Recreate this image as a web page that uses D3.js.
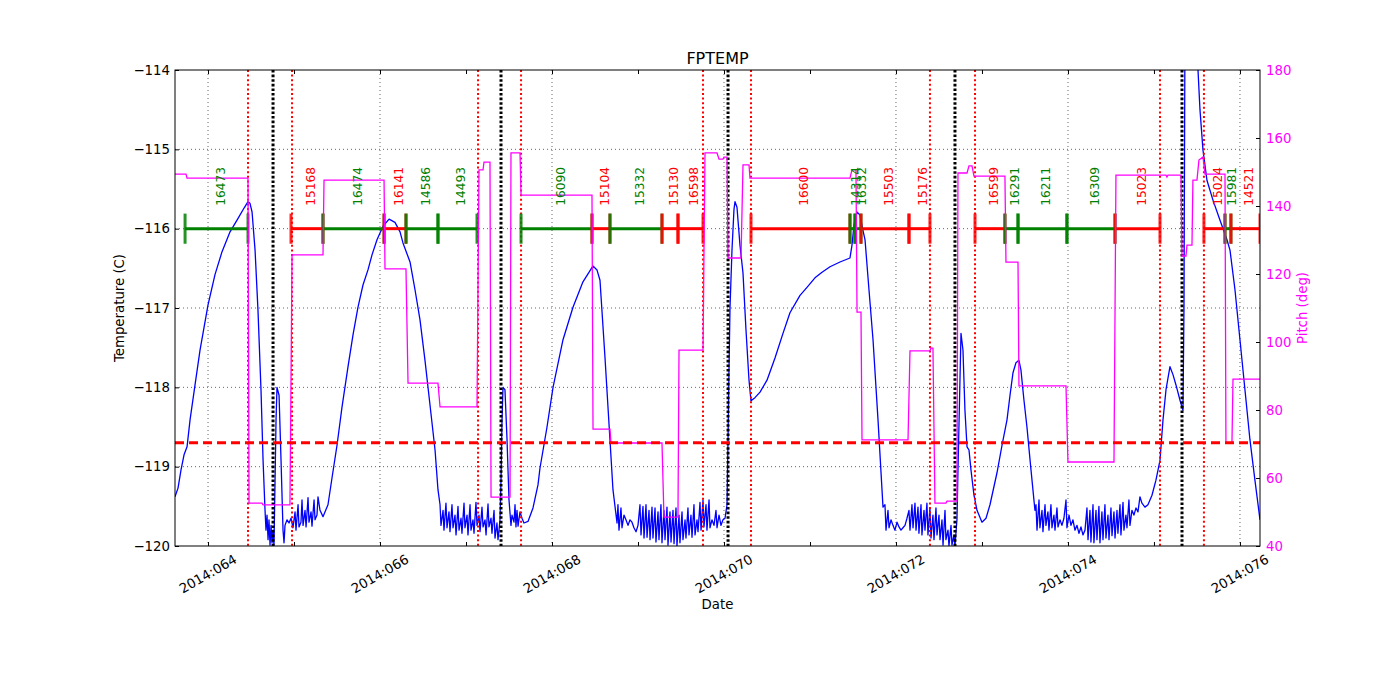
<!DOCTYPE html>
<html><head><meta charset="utf-8">
<script src="https://cdn.jsdelivr.net/npm/d3@7"></script>
<style>body{margin:0;background:#fff}svg{display:block}text{font-family:"DejaVu Sans",sans-serif}</style>
</head><body><svg id="c" width="1400" height="700"></svg>
<script>
// ---- data (day of year 2014, value) ----
const temperature = [
[63.616,-119.38],[63.651,-119.27],[63.686,-119.04],[63.721,-118.85],[63.756,-118.75],[63.791,-118.41],[63.849,-117.97],[63.907,-117.53],[64.000,-116.96],[64.081,-116.58],[64.163,-116.29],[64.256,-116.04],[64.349,-115.87],[64.419,-115.74],[64.465,-115.66],[64.488,-115.68],[64.512,-115.79],[64.547,-116.27],[64.581,-117.03],[64.616,-118.03],[64.640,-118.92],[64.663,-119.55],
[64.674,-119.80],[64.686,-119.61],[64.698,-119.92],[64.709,-119.67],[64.721,-119.99],[64.733,-119.74],[64.744,-119.96],[64.756,-119.80],[64.767,-119.99],[64.791,-118.41],[64.802,-118.00],[64.826,-118.10],[64.849,-118.92],[64.872,-119.80],[64.884,-119.96],[64.895,-119.74],[64.919,-119.67],[64.942,-119.71],[64.965,-119.65],[64.988,-119.77],[65.012,-119.57],[65.023,-119.80],[65.047,-119.48],[65.058,-119.76],[65.081,-119.70],[65.093,-119.42],[65.105,-119.74],[65.128,-119.55],[65.140,-119.76],[65.163,-119.39],[65.174,-119.70],[65.198,-119.57],[65.209,-119.75],[65.233,-119.42],[65.244,-119.67],[65.267,-119.61],[65.279,-119.38],[65.302,-119.55],[65.337,-119.63],
[65.395,-119.48],[65.442,-119.14],[65.500,-118.73],[65.558,-118.25],[65.628,-117.74],[65.686,-117.34],[65.744,-116.99],[65.802,-116.71],[65.860,-116.52],[65.907,-116.33],[65.965,-116.14],[66.035,-115.97],[66.105,-115.88],[66.174,-115.92],[66.233,-116.04],[66.267,-116.18],[66.349,-116.42],[66.407,-116.77],[66.465,-117.15],[66.523,-117.66],[66.581,-118.22],[66.640,-118.79],[66.674,-119.29],
[66.698,-119.48],[66.709,-119.74],[66.733,-119.55],[66.744,-119.80],[66.767,-119.46],[66.779,-119.77],[66.802,-119.57],[66.814,-119.82],[66.837,-119.48],[66.849,-119.77],[66.872,-119.61],[66.884,-119.86],[66.907,-119.50],[66.919,-119.80],[66.942,-119.65],[66.953,-119.84],[66.977,-119.46],[66.988,-119.77],[67.012,-119.61],[67.023,-119.86],[67.047,-119.48],[67.058,-119.80],[67.081,-119.67],[67.093,-119.84],[67.116,-119.45],[67.128,-119.74],[67.151,-119.61],[67.163,-119.82],[67.186,-119.51],[67.198,-119.76],[67.221,-119.67],[67.233,-119.86],[67.256,-119.47],[67.267,-119.76],[67.291,-119.65],[67.302,-119.84],[67.326,-119.55],[67.337,-119.90],[67.360,-119.71],[67.372,-119.92],[67.384,-119.80],[67.395,-119.67],[67.407,-119.17],[67.419,-118.41],[67.430,-118.00],[67.453,-118.03],[67.477,-118.66],[67.500,-119.42],[67.523,-119.74],[67.535,-119.61],[67.558,-119.70],[67.570,-119.48],[67.581,-119.76],[67.593,-119.55],[67.605,-119.75],[67.628,-119.57],[67.651,-119.65],[67.674,-119.71],[67.721,-119.69],[67.779,-119.52],[67.837,-119.23],
[67.860,-119.02],[67.942,-118.50],[68.012,-118.00],[68.128,-117.40],[68.244,-116.99],[68.360,-116.67],[68.477,-116.47],[68.523,-116.52],[68.558,-116.65],[68.616,-117.62],[68.674,-118.66],[68.709,-119.29],[68.756,-119.71],
[68.767,-119.48],[68.779,-119.80],[68.802,-119.52],[68.814,-119.77],[68.837,-119.61],[68.860,-119.67],[68.884,-119.74],[68.907,-119.67],[68.930,-119.70],[68.953,-119.77],[68.977,-119.82],[69.000,-119.74],[69.023,-119.48],[69.035,-119.86],[69.058,-119.50],[69.070,-119.90],[69.093,-119.48],[69.105,-119.89],[69.128,-119.55],[69.140,-119.92],[69.163,-119.51],[69.174,-119.90],[69.198,-119.52],[69.209,-119.95],[69.233,-119.57],[69.244,-119.92],[69.267,-119.48],[69.279,-119.96],[69.302,-119.55],[69.314,-119.92],[69.337,-119.51],[69.349,-119.99],[69.372,-119.57],[69.384,-119.95],[69.407,-119.55],[69.419,-119.97],[69.442,-119.52],[69.453,-120.00],[69.477,-119.61],[69.488,-119.96],[69.512,-119.57],[69.523,-119.92],[69.547,-119.67],[69.558,-119.90],[69.581,-119.52],[69.593,-119.86],[69.616,-119.61],[69.628,-119.89],[69.651,-119.48],[69.663,-119.86],[69.686,-119.67],[69.698,-119.82],[69.721,-119.45],[69.733,-119.80],[69.756,-119.42],[69.767,-119.76],[69.791,-119.48],[69.802,-119.80],[69.826,-119.42],[69.837,-119.77],[69.860,-119.67],[69.884,-119.74],[69.907,-119.55],[69.919,-119.77],[69.942,-119.61],[69.965,-119.74],[69.988,-119.67],[70.012,-119.65],
[70.035,-119.48],[70.047,-118.66],[70.058,-117.78],[70.070,-116.99],[70.093,-116.27],[70.116,-115.76],[70.128,-115.66],[70.151,-115.73],[70.186,-116.21],[70.221,-116.56],[70.256,-117.28],[70.291,-117.91],[70.314,-118.17],[70.360,-118.13],[70.419,-118.06],[70.500,-117.91],[70.593,-117.63],[70.686,-117.32],[70.767,-117.06],[70.884,-116.84],[70.965,-116.74],[71.058,-116.62],[71.140,-116.55],[71.233,-116.48],[71.349,-116.42],[71.465,-116.37],[71.488,-116.21],[71.512,-115.95],[71.547,-115.79],[71.581,-115.83],[71.616,-116.02],[71.640,-116.14],[71.686,-116.77],[71.733,-117.40],[71.791,-118.41],[71.849,-119.51],
[71.872,-119.48],[71.884,-119.80],[71.907,-119.55],[71.919,-119.77],[71.942,-119.67],[71.965,-119.74],[71.988,-119.80],[72.012,-119.70],[72.035,-119.76],[72.058,-119.80],[72.081,-119.77],[72.105,-119.74],[72.128,-119.65],[72.151,-119.55],[72.163,-119.80],[72.186,-119.48],[72.198,-119.77],[72.221,-119.46],[72.233,-119.80],[72.256,-119.51],[72.267,-119.84],[72.291,-119.48],[72.302,-119.86],[72.326,-119.55],[72.337,-119.80],[72.360,-119.46],[72.372,-119.86],[72.395,-119.52],[72.407,-119.90],[72.430,-119.61],[72.442,-119.92],[72.465,-119.52],[72.477,-119.86],[72.500,-119.61],[72.512,-119.92],[72.535,-119.67],[72.547,-119.99],[72.570,-119.55],[72.581,-119.92],[72.605,-119.80],[72.616,-120.00],[72.640,-119.74],[72.651,-119.99],[72.674,-119.86],[72.686,-120.00],
[72.709,-119.67],[72.721,-119.04],[72.744,-117.91],[72.756,-117.32],[72.779,-117.53],[72.802,-118.29],[72.826,-118.75],[72.849,-118.79],[72.872,-119.04],[72.907,-119.36],[72.942,-119.55],[73.000,-119.70],[73.047,-119.65],[73.093,-119.48],[73.174,-119.08],[73.233,-118.73],[73.291,-118.41],[73.326,-118.10],[73.360,-117.82],[73.395,-117.69],[73.430,-117.66],[73.453,-117.78],[73.488,-118.16],[73.523,-118.50],[73.570,-119.04],[73.616,-119.55],
[73.628,-119.48],[73.640,-119.80],[73.663,-119.42],[73.674,-119.77],[73.698,-119.55],[73.709,-119.82],[73.733,-119.48],[73.744,-119.74],[73.767,-119.57],[73.779,-119.80],[73.802,-119.48],[73.814,-119.77],[73.837,-119.61],[73.849,-119.80],[73.872,-119.52],[73.884,-119.76],[73.907,-119.67],[73.930,-119.74],[73.953,-119.65],[73.977,-119.42],[73.988,-119.77],[74.012,-119.61],[74.035,-119.74],[74.058,-119.67],[74.081,-119.80],[74.105,-119.74],[74.128,-119.84],[74.151,-119.76],[74.174,-119.86],[74.198,-119.80],[74.221,-119.52],[74.233,-119.92],[74.256,-119.55],[74.267,-119.95],[74.291,-119.48],[74.302,-119.96],[74.326,-119.55],[74.337,-119.92],[74.360,-119.50],[74.372,-119.96],[74.395,-119.57],[74.407,-119.92],[74.430,-119.48],[74.442,-119.90],[74.465,-119.61],[74.477,-119.92],[74.500,-119.52],[74.512,-119.87],[74.535,-119.57],[74.547,-119.90],[74.570,-119.55],[74.581,-119.84],[74.605,-119.48],[74.616,-119.86],[74.640,-119.45],[74.651,-119.80],[74.674,-119.61],[74.686,-119.77],[74.709,-119.42],[74.721,-119.74],[74.744,-119.55],[74.767,-119.61],[74.791,-119.52],[74.814,-119.57],[74.837,-119.38],[74.860,-119.46],[74.895,-119.51],[74.930,-119.48],[74.977,-119.36],[75.023,-119.17],[75.070,-118.92],[75.105,-118.41],[75.140,-118.03],[75.186,-117.74],[75.221,-117.84],[75.256,-117.97],[75.302,-118.16],[75.337,-118.29],
[75.349,-117.00],[75.360,-113.60],[75.419,-113.30],[75.477,-113.50],[75.512,-114.00],[75.535,-114.50],[75.570,-115.01],[75.616,-115.39],[75.686,-115.64],[75.767,-115.89],[75.849,-116.14],[75.884,-116.27],[75.942,-116.77],[76.000,-117.40],[76.058,-118.03],[76.116,-118.66],[76.174,-119.17],[76.233,-119.67]
];

const pitch = [
[63.616,149.4],[63.744,149.4],[63.756,148.2],[64.465,148.2],[64.477,52.6],[64.628,52.6],[64.640,52.1],[64.953,52.1],[64.977,125.6],[65.337,125.6],[65.349,147.6],[66.047,147.6],[66.058,121.5],[66.302,121.5],[66.326,87.9],[66.674,87.9],[66.698,80.9],[67.128,80.9],[67.151,150.6],[67.198,150.6],[67.209,152.9],[67.279,152.9],[67.291,54.4],[67.512,54.4],[67.523,155.6],[67.628,155.6],[67.640,143.2],[68.465,143.2],[68.477,74.4],[68.674,74.4],[68.686,70.3],[69.279,70.3],[69.302,48.5],[69.465,48.5],[69.477,97.6],[69.756,97.6],[69.779,155.6],[69.919,155.6],[69.942,153.8],[69.988,153.8],[70.000,154.4],[70.035,154.4],[70.047,124.7],[70.198,124.7],[70.221,152.1],[70.291,152.1],[70.302,148.2],[71.465,148.2],[71.488,150.6],[71.535,150.6],[71.547,108.8],[71.593,108.8],[71.605,71.2],[72.140,71.2],[72.163,97.4],[72.395,97.4],[72.407,98.2],[72.430,98.2],[72.453,52.6],[72.581,52.6],[72.593,53.2],[72.709,53.2],[72.721,149.7],[72.826,149.7],[72.849,151.8],[72.884,151.8],[72.907,148.8],[73.267,148.8],[73.279,123.5],[73.419,123.5],[73.430,87.1],[73.977,87.1],[74.000,64.7],[74.535,64.7],[74.558,149.1],[75.140,149.1],[75.151,148.5],[75.163,149.1],[75.314,149.1],[75.326,125.3],[75.372,125.3],[75.384,128.5],[75.442,128.5],[75.453,147.6],[75.500,147.6],[75.523,153.5],[75.570,154.4],[75.593,149.4],[75.826,149.4],[75.837,70.3],[75.907,70.3],[75.919,89.1],[76.233,89.1]
];

const redEventTimes = [64.465,64.977,67.140,67.640,69.756,70.314,72.395,72.919,75.070,75.581];
const blackEventTimes = [64.756,67.407,70.047,72.686,75.326];
const obsidNames = ["16473","15168","16474","16141","14586","14493","16090","15104","15332","15130","16598","16600","14314","16332","15503","15176","16599","16291","16211","16309","15023","15024","15981","14521"];
const obsidStart = [63.733,64.965,65.337,66.047,66.302,66.674,67.640,68.465,68.674,69.279,69.465,70.314,71.465,71.523,71.593,72.151,72.919,73.267,73.419,73.988,74.547,75.581,75.826,75.895];
const obsidEnd   = [64.465,65.337,66.047,66.302,66.674,67.128,68.465,68.674,69.279,69.465,69.756,71.465,71.523,71.593,72.151,72.395,73.267,73.419,73.988,74.547,75.070,75.826,75.895,76.233];
const obsidKind  = ["g","r","g","r","g","g","g","r","g","r","r","r","g","g","r","r","r","g","g","g","r","r","g","r"];
const tempLimit = -118.7;
const barLevel = -116;
const dayTicks = [64,65,66,67,68,69,70,71,72,73,74,75,76];
const dayLabelTicks = [64,66,68,70,72,74,76];
const tempTicks = [-120,-119,-118,-117,-116,-115,-114];
const pitchTicks = [40,60,80,100,120,140,160,180];

// ---- layout ----
const L=175,R=1260,T=70,B=546;
const kindColor = {g:"#008000", r:"#ff0000"};
const svg = d3.select("#c");
svg.append("rect").attr("width",1400).attr("height",700).attr("fill","#fff");

const x = d3.scaleLinear().domain([63.616,76.233]).range([L,R]);
const yT = d3.scaleLinear().domain([-120,-114]).range([B,T]);
const yP = d3.scaleLinear().domain([40,180]).range([B,T]);

svg.append("clipPath").attr("id","clip").append("rect").attr("x",L).attr("y",T).attr("width",R-L).attr("height",B-T);
const plot = svg.append("g").attr("clip-path","url(#clip)");

// grid
plot.selectAll(".gy").data(tempTicks.slice(1,-1)).join("line")
  .attr("x1",L).attr("x2",R).attr("y1",d=>yT(d)).attr("y2",d=>yT(d))
  .attr("stroke","#000").attr("stroke-width",0.6).attr("stroke-dasharray","1,3");
plot.selectAll(".gx").data(dayLabelTicks).join("line")
  .attr("y1",T).attr("y2",B).attr("x1",d=>x(d)).attr("x2",d=>x(d))
  .attr("stroke","#000").attr("stroke-width",0.6).attr("stroke-dasharray","1,3");

// temperature
plot.append("path").datum(temperature)
  .attr("d",d3.line().x(d=>x(d[0])).y(d=>yT(d[1])))
  .attr("fill","none").attr("stroke","#0000ff").attr("stroke-width",1.3).attr("stroke-linejoin","round");

// event lines
plot.selectAll(".rl").data(redEventTimes).join("line")
  .attr("x1",d=>x(d)).attr("x2",d=>x(d)).attr("y1",T).attr("y2",B)
  .attr("stroke","#ff0000").attr("stroke-width",2).attr("stroke-dasharray","2,2.6");
plot.selectAll(".bl").data(blackEventTimes).join("line")
  .attr("x1",d=>x(d)).attr("x2",d=>x(d)).attr("y1",T).attr("y2",B)
  .attr("stroke","#000").attr("stroke-width",3).attr("stroke-dasharray","2.6,2");

// obsid bars
const idx = d3.range(obsidNames.length);
const bars = plot.append("g");
bars.selectAll(".seg").data(idx).join("line")
  .attr("x1",i=>x(obsidStart[i])).attr("x2",i=>x(obsidEnd[i]))
  .attr("y1",yT(barLevel)).attr("y2",yT(barLevel))
  .attr("stroke",i=>kindColor[obsidKind[i]]).attr("stroke-width",3);
const tickPts = idx.flatMap(i=>[[obsidStart[i],i],[obsidEnd[i],i]]);
bars.selectAll(".tk").data(tickPts).join("line")
  .attr("x1",d=>x(d[0])).attr("x2",d=>x(d[0]))
  .attr("y1",yT(barLevel+0.19)).attr("y2",yT(barLevel-0.19))
  .attr("stroke",d=>kindColor[obsidKind[d[1]]]).attr("stroke-width",3).attr("stroke-opacity",0.85);

// pitch
plot.append("path").datum(pitch)
  .attr("d",d3.line().x(d=>x(d[0])).y(d=>yP(d[1])))
  .attr("fill","none").attr("stroke","#ff00ff").attr("stroke-width",1.3);

// limit line
plot.append("line").attr("x1",L).attr("x2",R).attr("y1",yT(tempLimit)).attr("y2",yT(tempLimit))
  .attr("stroke","#ff0000").attr("stroke-width",3).attr("stroke-dasharray","9,5");

// obsid labels
svg.selectAll(".ol").data(idx).join("text")
  .attr("transform",i=>`translate(${x((obsidStart[i]+obsidEnd[i])/2)+8},${yT(-115.71)}) rotate(-90)`)
  .attr("font-size","12.2px").attr("fill",i=>kindColor[obsidKind[i]])
  .text(i=>obsidNames[i]);

// frame
svg.append("rect").attr("x",L).attr("y",T).attr("width",R-L).attr("height",B-T)
  .attr("fill","none").attr("stroke","#000").attr("stroke-width",1);

// axes
const fs="13.3px";
svg.append("g").attr("transform",`translate(0,${B})`)
  .call(d3.axisBottom(x).tickValues(dayTicks).tickSize(-4).tickFormat(""))
  .call(g=>g.select(".domain").remove());
svg.append("g").attr("transform",`translate(0,${T})`)
  .call(d3.axisTop(x).tickValues(dayTicks).tickSize(-4).tickFormat(""))
  .call(g=>g.select(".domain").remove());
svg.selectAll(".dl").data(dayLabelTicks).join("text")
  .attr("transform",d=>`translate(${x(d)},574) rotate(-30)`)
  .attr("text-anchor","middle").attr("dominant-baseline","central")
  .attr("font-size",fs).attr("fill","#000")
  .text(d=>"2014:"+String(d).padStart(3,"0"));

const gl = svg.append("g").attr("transform",`translate(${L},0)`)
  .call(d3.axisLeft(yT).tickValues(tempTicks).tickSize(-4).tickPadding(5).tickFormat(d3.format("d")))
  .call(g=>g.select(".domain").remove());
gl.selectAll("text").attr("font-size",fs).attr("font-family","DejaVu Sans");

const gr = svg.append("g").attr("transform",`translate(${R},0)`)
  .call(d3.axisRight(yP).tickValues(pitchTicks).tickSize(-4).tickPadding(6).tickFormat(d3.format("d")))
  .call(g=>g.select(".domain").remove());
gr.selectAll("text").attr("font-size",fs).attr("font-family","DejaVu Sans").attr("fill","#ff00ff");

// titles
svg.append("text").attr("x",(L+R)/2).attr("y",64).attr("text-anchor","middle").attr("font-size","16px").text("FPTEMP");
svg.append("text").attr("x",(L+R)/2).attr("y",609).attr("text-anchor","middle").attr("font-size",fs).text("Date");
svg.append("text").attr("transform",`translate(124,${(T+B)/2}) rotate(-90)`).attr("text-anchor","middle").attr("font-size",fs).text("Temperature (C)");
svg.append("text").attr("transform",`translate(1307,${(T+B)/2}) rotate(-90)`).attr("text-anchor","middle").attr("font-size",fs).attr("fill","#ff00ff").text("Pitch (deg)");
</script></body></html>
